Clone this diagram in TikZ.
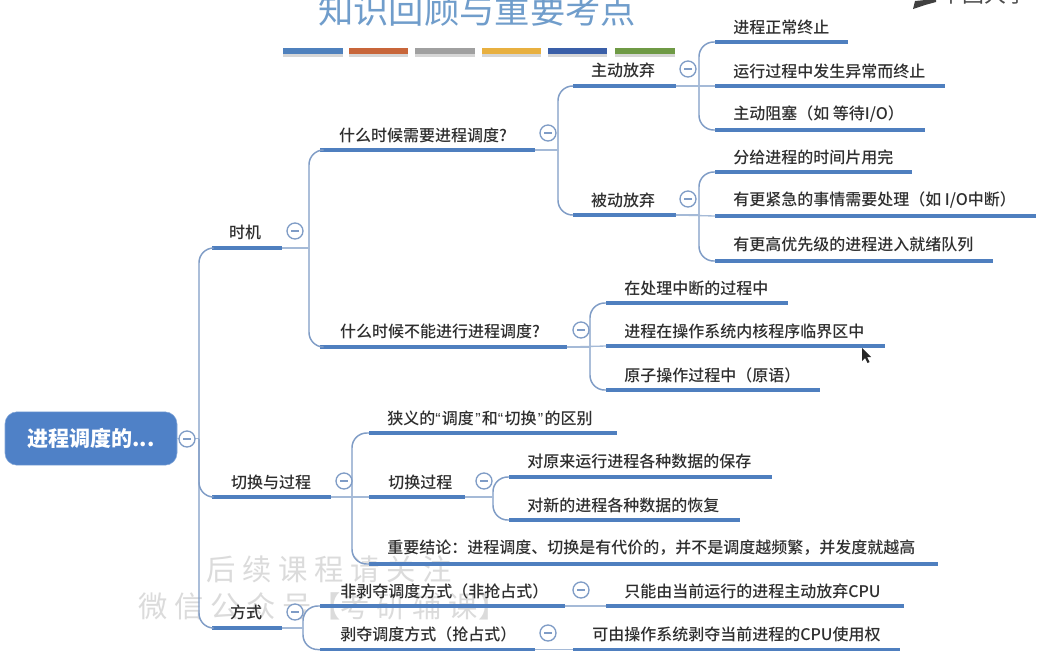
\documentclass[tikz,border=0pt]{standalone}
\usepackage{fontspec}
\setmainfont{Noto Sans CJK SC}
\newfontfamily\medf{Noto Sans CJK SC Medium}
\newfontfamily\latinq{Liberation Sans}
\definecolor{linec}{HTML}{7F9CC6}
\definecolor{barc}{HTML}{4F7FBF}
\definecolor{rootc}{HTML}{4F81C7}
\definecolor{txtc}{HTML}{2E2E2E}
\definecolor{titlec}{HTML}{709DCB}
\newcommand{\ql}{{\latinq “}\hspace{1pt}}
\newcommand{\qr}{\hspace{1pt}{\latinq ”}\hspace{1pt}}
\tikzset{
  x=0.75pt,y=-0.75pt,
  lab/.style={text=txtc,font=\medf\fontsize{12pt}{14pt}\selectfont,inner sep=0pt},
  bar/.style={line width=2.8pt,draw=barc},
  conn/.style={line width=1.1pt,draw=linec,rounded corners=11pt},
  stem/.style={line width=1pt,draw=linec!70!white},
  toggle/.style={circle,draw=linec,line width=1pt,fill=white,minimum size=12pt,inner sep=0pt,
    path picture={\draw[linec,line width=.8pt] ([xshift=-3pt]path picture bounding box.center)--([xshift=3pt]path picture bounding box.center);}},
  wm/.style={text=black!14,font=\fontsize{22pt}{24pt}\selectfont,inner sep=0pt},
}
\newcommand{\topic}[8]{%
  \coordinate (#1-l) at (#2,#4);
  \coordinate (#1-r) at (#3,#4);
  \draw[bar] (#1-l) -- (#1-r);
  \node[lab,anchor=#7] (#1-t) at (#5,#6) {#8};
}
\newcommand{\fan}[3]{%
  \foreach \k in {#3}{
    \draw[conn] (#1-r -| #2,0) -- (#2,0 |- \k-l) -- (\k-l);
  }
  \draw[stem] (#1-r) -- (#1-r -| #2,0);
}
\begin{document}
\begin{tikzpicture}
\useasboundingbox (0,0) rectangle (1037,651);
\fill[white] (0,0) rectangle (1037,651);
\clip (0,0) rectangle (1037,651);

% title
\node[text=titlec,font=\fontsize{26.5pt}{30pt}\selectfont,inner sep=0pt] (title) at (477,10) {知识回顾与重要考点};
\foreach \a/\b/\c in {283/343/4F81BD,349/408/C8663A,415/475/A0A0A0,482/541/E8B040,548/607/3A5FA8,615/675/6F9A45}{
  \definecolor{tmpc}{HTML}{\c}
  \fill[black!16] (\a,52) rectangle (\b,57);
  \fill[tmpc] (\a,48) rectangle (\b,54);
}
% top right fragment
\fill[black!75] (913,9) -- (915,1) -- (936,-1) -- (936,2) -- (925,5) -- cycle;
\node[text=black!70,font=\fontsize{16.5pt}{18pt}\selectfont,inner sep=0pt,anchor=west] (logo) at (940,-6) {中国大学};

% watermark
\node[wm] (wma) at (329,569) {后 续 课 程 请 关 注};
\node[wm] (wmb) at (323,606) {微 信 公 众 号【考 研 辅 课】};

% root
\node[fill=rootc,draw=rootc!70!white,rounded corners=9pt,minimum width=129pt,minimum height=40pt,inner sep=0pt,
  text=white,font=\fontsize{15.8pt}{18pt}\selectfont\bfseries] (root) at (91,438.5) {进程调度的...};

% topics
\topic{a}{212}{282}{248}{245}{232}{center}{时机}
\topic{b}{212}{331}{497}{271}{482}{center}{切换与过程}
\topic{c}{212}{282}{628}{246}{612}{center}{方式}

\topic{a1}{320}{535}{150}{423}{135}{center}{什么时候需要进程调度?}
\topic{a2}{320}{567}{347}{440}{331}{center}{什么时候不能进行进程调度?}
\topic{a11}{573}{676}{86}{623}{70}{center}{主动放弃}
\topic{a12}{573}{676}{215}{623}{200}{center}{被动放弃}
\topic{p1}{715}{848}{42}{733}{27}{west}{进程正常终止}
\topic{p2}{715}{945}{86}{733}{71}{west}{运行过程中发生异常而终止}
\topic{p3}{715}{925}{130}{733}{114}{west}{主动阻塞（如 等待I/O）}
\topic{q1}{715}{912}{172}{733}{157}{west}{分给进程的时间片用完}
\topic{q2}{715}{1036}{216}{733}{200}{west}{有更紧急的事情需要处理（如 I/O中断）}
\topic{q3}{715}{993}{261}{733}{244}{west}{有更高优先级的进程进入就绪队列}
\topic{r1}{606}{788}{303}{624}{288}{west}{在处理中断的过程中}
\topic{r2}{606}{885}{346}{624}{331}{west}{进程在操作系统内核程序临界区中}
\topic{r3}{606}{820}{390}{624}{375}{west}{原子操作过程中（原语）}

\topic{b1}{369}{617}{433}{387}{418}{west}{狭义的\ql 调度\qr 和\ql 切换\qr 的区别}
\topic{b2}{369}{465}{497}{388}{482}{west}{切换过程}
\topic{b3}{369}{938}{564}{387}{548}{west}{重要结论：进程调度、切换是有代价的，并不是调度越频繁，并发度就越高}
\topic{s1}{509}{772}{477}{527}{461}{west}{对原来运行进程各种数据的保存}
\topic{s2}{509}{740}{520}{527}{505}{west}{对新的进程各种数据的恢复}

\topic{c1}{320}{565}{606}{340}{591}{west}{非剥夺调度方式（非抢占式）}
\topic{c2}{320}{535}{649.5}{340}{634}{west}{剥夺调度方式（抢占式）}
\topic{c11}{606}{904}{606}{624}{591}{west}{只能由当前运行的进程主动放弃CPU}
\topic{c21}{573}{900}{649.5}{592}{634}{west}{可由操作系统剥夺当前进程的CPU使用权}

% connectors
\draw[stem] (root.east) -- (199,0 |- root.east);
\foreach \k in {a,b,c}{\draw[conn] (199,0 |- root.east) -- (199,0 |- \k-l) -- (\k-l);}
\fan{a}{309}{a1,a2}
\fan{a1}{558}{a11,a12}
\fan{a11}{699}{p1,p3}
\draw[stem] (a11-r) -- (p2-l);
\fan{a12}{699}{q1,q3}
\draw[stem] (a12-r) -- (q2-l);
\fan{a2}{590}{r1,r3}
\draw[stem] (a2-r) -- (r2-l);
\fan{b}{352}{b1,b3}
\draw[stem] (b-r) -- (b2-l);
\fan{b2}{493}{s1,s2}
\fan{c}{303}{c1,c2}
\draw[stem] (c1-r) -- (c11-l);
\draw[stem] (c2-r) -- (c21-l);

% toggles
\foreach \n/\px/\py in {t0/187/439,t1/295/231,t2/344/481,t3/295/612,t4/548/133,t5/581/330,t6/688/69,t7/688/199,t8/484/481,t9/581/590,t10/548/633}{
  \node[toggle] (\n) at (\px,\py) {};
}

% pointer
\fill[black!85] (862,348) -- (862,361) -- (865,358) -- (867.5,363) -- (869.5,362) -- (867,357) -- (871,357) -- cycle;
\end{tikzpicture}
\end{document}
